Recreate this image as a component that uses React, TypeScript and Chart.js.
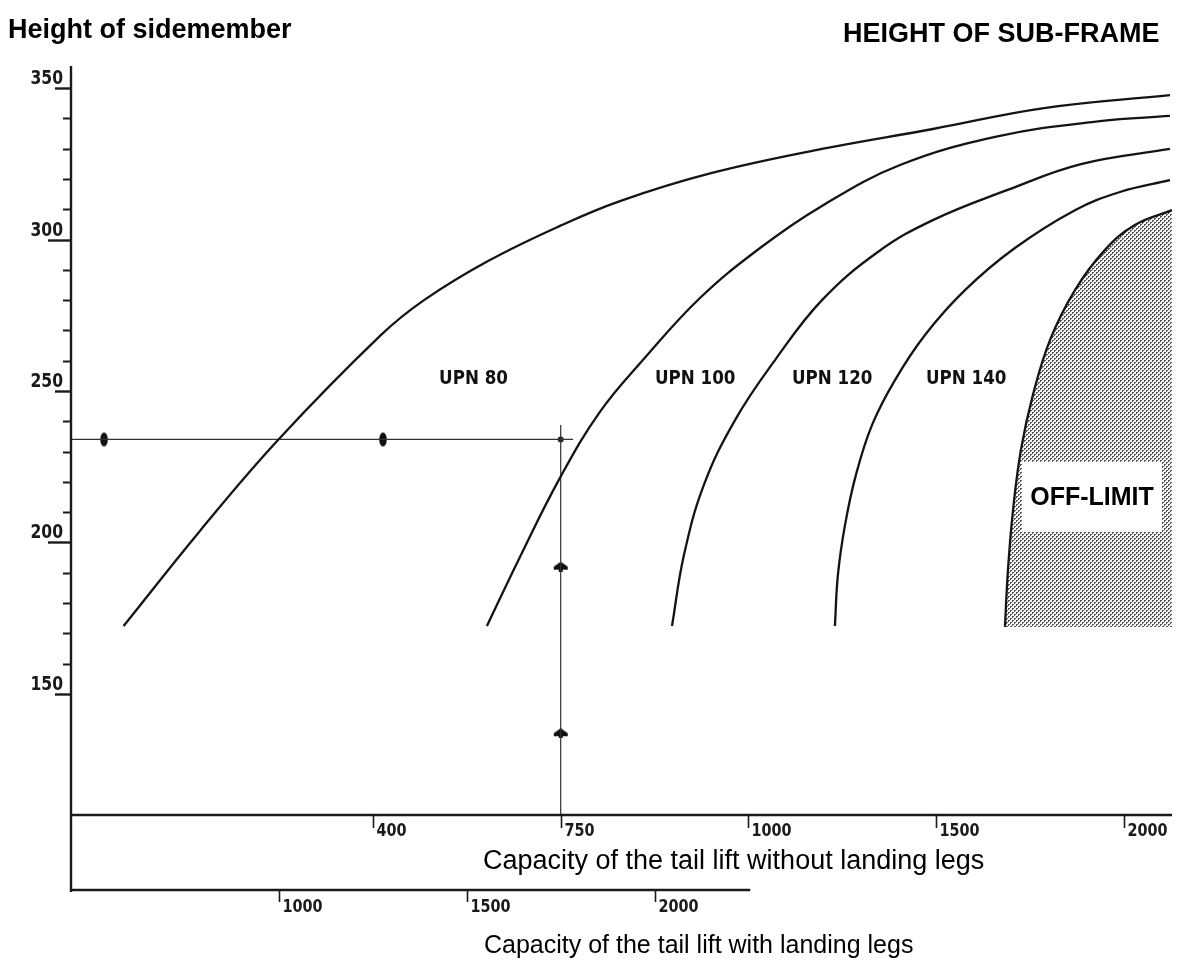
import React, { useEffect, useRef } from "react";
import { Chart, registerables } from "chart.js";

Chart.register(...registerables);

// ---- Axis ticks (x positions are tick slots of the printed, non-linear scale) ----
const xTopTickPos = [1, 2, 3, 4, 5];
const xTopTickLabels = ["400", "750", "1000", "1500", "2000"];
const xBottomTickPos = [0.5, 1.5, 2.5];
const xBottomTickLabels = ["1000", "1500", "2000"];
const yMajorTicks = [150, 200, 250, 300, 350];
const yMinorTicks = [160, 170, 180, 190, 210, 220, 230, 240, 260, 270, 280, 290, 310, 320, 330, 340];

// ---- Limit curves ----
const upn80X = [-0.329, 0.078, 0.494, 1.043, 1.272, 1.613, 1.996, 2.316, 2.801, 3.392, 3.983, 4.575, 5.246];
const upn80Y = [172.4, 203.8, 233.8, 268.5, 280.0, 292.9, 304.5, 312.7, 321.9, 329.9, 336.5, 343.4, 347.7];

const upn100X = [1.607, 1.783, 1.996, 2.209, 2.438, 2.742, 3.062, 3.381, 3.808, 4.34, 4.873, 5.246];
const upn100Y = [172.4, 195.2, 221.3, 243.1, 260.2, 280.7, 297.2, 310.7, 324.6, 334.2, 339.1, 340.8];

const upn120X = [2.593, 2.657, 2.763, 2.929, 3.142, 3.392, 3.69, 3.983, 4.378, 4.772, 5.246];
const upn120Y = [172.4, 195.9, 219.0, 240.4, 260.2, 280.0, 295.9, 306.4, 316.3, 324.9, 329.9];

const upn140X = [3.461, 3.477, 3.515, 3.573, 3.659, 3.781, 3.941, 4.154, 4.42, 4.74, 4.98, 5.246];
const upn140Y = [172.4, 189.3, 205.8, 222.3, 238.8, 253.6, 268.5, 283.3, 297.2, 309.7, 315.7, 319.6];

const offLimitX = [4.367, 4.383, 4.41, 4.452, 4.516, 4.607, 4.74, 4.899, 5.059, 5.257];
const offLimitY = [172.1, 190.9, 210.7, 230.5, 248.7, 266.8, 283.3, 296.5, 304.8, 309.7];
const offLimitBase = 172.1;

// ---- Reading example (reference lines and markers) ----
const readHeight = 234;
const readX = 2;
const hLineX = [-0.609, 2.066];
const vLineY = [238.8, 110];
const hMarkerX = [-0.433, 1.053];
const vMarkerY = [192, 137];

// ---- Labels ----
const curveLabels = ["UPN 80", "UPN 100", "UPN 120", "UPN 140"];
const curveLabelX = [1.352, 2.502, 3.232, 3.946];
const curveLabelY = 255.3;
const offLimitText = "OFF-LIMIT";
const offLimitBox = { x0: 4.458, x1: 5.204, y0: 203.5, y1: 226.6 };
const lowerAxisEndPos = 3.01;

const titleLeft = "Height of sidemember";
const titleRight = "HEIGHT OF SUB-FRAME";
const xTitleTop = "Capacity of the tail lift without landing legs";
const xTitleBottom = "Capacity of the tail lift with landing legs";

const X_MIN = -0.609;
const X_MAX = 5.257;
const Y_MIN = 110;
const Y_MAX = 357.3;

const pts = (xs: number[], ys: number[]) => xs.map((x, i) => ({ x, y: ys[i] }));

function condensedText(ctx: CanvasRenderingContext2D, text: string, x: number, y: number, font: string, sx: number, align: CanvasTextAlign) {
  ctx.save();
  ctx.translate(x, y);
  ctx.scale(sx, 1);
  ctx.font = font;
  ctx.textAlign = align;
  ctx.textBaseline = "alphabetic";
  ctx.fillText(text, 0, 0);
  ctx.restore();
}

const COND = '"DejaVu Sans", Verdana, sans-serif';
const SANS = '"Liberation Sans", Arial, Helvetica, sans-serif';

const diagramPlugin = {
  id: "diagram",
  afterDatasetsDraw(chart: any) {
    const { ctx, chartArea: a, scales } = chart;
    const xs = scales.x;
    const ys = scales.y;
    ctx.save();

    // OFF-LIMIT label box
    const bx0 = xs.getPixelForValue(offLimitBox.x0);
    const bx1 = xs.getPixelForValue(offLimitBox.x1);
    const by0 = ys.getPixelForValue(offLimitBox.y1);
    const by1 = ys.getPixelForValue(offLimitBox.y0);
    ctx.fillStyle = "#ffffff";
    ctx.fillRect(bx0, by0, bx1 - bx0, by1 - by0);
    ctx.fillStyle = "#000";
    ctx.font = `bold 25px ${SANS}`;
    ctx.textAlign = "center";
    ctx.textBaseline = "middle";
    ctx.fillText(offLimitText, (bx0 + bx1) / 2, (by0 + by1) / 2 + 1);

    // Curve labels
    ctx.fillStyle = "#111";
    curveLabels.forEach((t, i) => {
      const px = xs.getPixelForValue(curveLabelX[i]);
      const py = ys.getPixelForValue(curveLabelY);
      condensedText(ctx, t, px, py + 9, `bold 19px ${COND}`, 0.88, "left");
    });

    // Axes
    const lowerY = a.bottom + 75;
    ctx.strokeStyle = "#1a1a1a";
    ctx.lineWidth = 2.4;
    ctx.beginPath();
    ctx.moveTo(a.left, a.top);
    ctx.lineTo(a.left, lowerY + 2);
    ctx.stroke();
    ctx.beginPath();
    ctx.moveTo(a.left, a.bottom);
    ctx.lineTo(a.right, a.bottom);
    ctx.stroke();
    ctx.beginPath();
    ctx.moveTo(a.left, lowerY);
    ctx.lineTo(xs.getPixelForValue(lowerAxisEndPos), lowerY);
    ctx.stroke();

    // Y ticks
    ctx.lineWidth = 2;
    yMinorTicks.forEach((v) => {
      const py = Math.round(ys.getPixelForValue(v)) + 0.5;
      ctx.beginPath();
      ctx.moveTo(a.left - 8, py);
      ctx.lineTo(a.left, py);
      ctx.stroke();
    });
    ctx.fillStyle = "#1a1a1a";
    yMajorTicks.forEach((v) => {
      const py = Math.round(ys.getPixelForValue(v)) + 0.5;
      const len = v % 100 === 0 ? 23 : 16;
      ctx.lineWidth = 2.4;
      ctx.beginPath();
      ctx.moveTo(a.left - len, py);
      ctx.lineTo(a.left, py);
      ctx.stroke();
      condensedText(ctx, String(v), a.left - 8, py - 5, `bold 20px ${COND}`, 0.78, "right");
    });

    // Top X ticks
    ctx.lineWidth = 1.6;
    xTopTickPos.forEach((p, i) => {
      const px = Math.round(xs.getPixelForValue(p)) + 0.5;
      ctx.beginPath();
      ctx.moveTo(px, a.bottom);
      ctx.lineTo(px, a.bottom + 13);
      ctx.stroke();
      condensedText(ctx, xTopTickLabels[i], px + 3, a.bottom + 21, `bold 18px ${COND}`, 0.8, "left");
    });
    // Bottom X ticks
    xBottomTickPos.forEach((p, i) => {
      const px = Math.round(xs.getPixelForValue(p)) + 0.5;
      ctx.beginPath();
      ctx.moveTo(px, lowerY);
      ctx.lineTo(px, lowerY + 12);
      ctx.stroke();
      condensedText(ctx, xBottomTickLabels[i], px + 3, lowerY + 22, `bold 18px ${COND}`, 0.8, "left");
    });

    // Titles
    ctx.fillStyle = "#000";
    ctx.textAlign = "left";
    ctx.textBaseline = "alphabetic";
    ctx.font = `bold 27px ${SANS}`;
    ctx.fillText(titleLeft, 8, 38);
    ctx.fillText(titleRight, 843, 42);
    ctx.font = `27px ${SANS}`;
    ctx.fillText(xTitleTop, 483, 869);
    ctx.font = `25px ${SANS}`;
    ctx.fillText(xTitleBottom, 484, 953);

    ctx.restore();
  },
};

function makeMarkerH(): HTMLCanvasElement {
  const c = document.createElement("canvas");
  c.width = 10;
  c.height = 16;
  const g = c.getContext("2d")!;
  g.fillStyle = "#111";
  g.beginPath();
  g.ellipse(5, 8, 3.8, 7, 0, 0, Math.PI * 2);
  g.fill();
  return c;
}

function makeMarkerV(): HTMLCanvasElement {
  const c = document.createElement("canvas");
  c.width = 16;
  c.height = 10;
  const g = c.getContext("2d")!;
  g.fillStyle = "#111";
  g.beginPath();
  g.moveTo(8, 0);
  g.lineTo(15, 5);
  g.lineTo(15, 8);
  g.lineTo(10, 8);
  g.lineTo(10, 10);
  g.lineTo(6, 10);
  g.lineTo(6, 8);
  g.lineTo(1, 8);
  g.lineTo(1, 5);
  g.closePath();
  g.fill();
  return c;
}

function makePattern(ctx: CanvasRenderingContext2D): CanvasPattern | string {
  const c = document.createElement("canvas");
  c.width = 4;
  c.height = 4;
  const g = c.getContext("2d")!;
  g.fillStyle = "#f4f4f4";
  g.fillRect(0, 0, 4, 4);
  g.fillStyle = "#555555";
  g.fillRect(0, 0, 2, 1);
  g.fillRect(0, 1, 1, 1);
  g.fillRect(2, 2, 2, 1);
  g.fillRect(2, 3, 1, 1);
  return ctx.createPattern(c, "repeat") || "#aaaaaa";
}

export default function App() {
  const ref = useRef<HTMLCanvasElement>(null);

  useEffect(() => {
    const canvas = ref.current;
    if (!canvas) return;
    const ctx = canvas.getContext("2d")!;
    const pattern = makePattern(ctx);
    const mH = makeMarkerH();
    const mV = makeMarkerV();

    const curve = (label: string, xs: number[], ys: number[]) => ({
      label,
      data: pts(xs, ys),
      borderColor: "#141414",
      borderWidth: 2.3,
      pointRadius: 0,
      fill: false,
      tension: 0.4,
    });

    const chart = new Chart(canvas, {
      type: "line",
      data: {
        datasets: [
          {
            label: "Off-limit",
            data: pts(offLimitX, offLimitY),
            borderColor: "#141414",
            borderWidth: 2.3,
            pointRadius: 0,
            backgroundColor: pattern as any,
            fill: { value: offLimitBase },
            tension: 0.4,
          },
          curve("UPN 80", upn80X, upn80Y),
          curve("UPN 100", upn100X, upn100Y),
          curve("UPN 120", upn120X, upn120Y),
          curve("UPN 140", upn140X, upn140Y),
          {
            label: "Reading height",
            data: pts(hLineX, [readHeight, readHeight]),
            borderColor: "#333",
            borderWidth: 1.2,
            pointRadius: 0,
            fill: false,
          },
          {
            label: "Reading capacity",
            data: pts([readX, readX], vLineY),
            borderColor: "#333",
            borderWidth: 1.2,
            pointRadius: 0,
            fill: false,
          },
          {
            label: "Markers H",
            data: pts(hMarkerX, [readHeight, readHeight]),
            showLine: false,
            pointStyle: mH as any,
            pointRadius: 7,
          },
          {
            label: "Markers V",
            data: pts([readX, readX], vMarkerY),
            showLine: false,
            pointStyle: mV as any,
            pointRadius: 7,
          },
          {
            label: "Intersection",
            data: pts([readX], [readHeight]),
            showLine: false,
            pointStyle: "circle",
            pointRadius: 3,
            borderWidth: 0,
            backgroundColor: "#222",
            borderColor: "#222",
          },
        ],
      },
      options: {
        responsive: false,
        animation: false,
        layout: { padding: { left: 71, top: 66, right: 8, bottom: 152 } },
        plugins: {
          legend: { display: false },
          tooltip: { enabled: false },
        },
        events: [],
        scales: {
          x: { type: "linear", min: X_MIN, max: X_MAX, display: false },
          y: { type: "linear", min: Y_MIN, max: Y_MAX, display: false },
        },
      },
      plugins: [diagramPlugin],
    });

    return () => chart.destroy();
  }, []);

  return (
    <div style={{ position: "absolute", left: 0, top: 0, width: 1180, height: 967, background: "#fff" }}>
      <canvas ref={ref} width={1180} height={967} style={{ display: "block" }} />
    </div>
  );
}
